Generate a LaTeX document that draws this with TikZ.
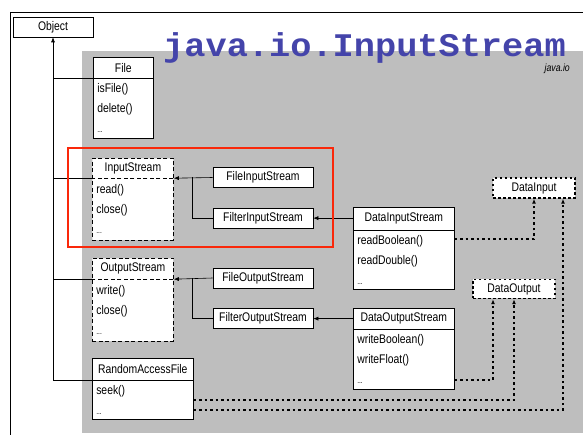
\documentclass[tikz,border=0pt]{standalone}
\usepackage{fontspec}
\setmainfont[FakeStretch=0.83]{Liberation Sans}
\newfontfamily\titlefont[FakeStretch=1.07]{Liberation Mono}
\usetikzlibrary{calc,positioning,shapes.multipart,arrows.meta}
\definecolor{pkggray}{RGB}{190,190,190}
\definecolor{titleblue}{RGB}{68,68,170}
\definecolor{markred}{RGB}{250,40,10}
\tikzstyle{classbox} = [rectangle split, rectangle split parts=2, draw, fill=white, inner sep=0pt, line width=0.6pt, font=\fontsize{12.5}{20}\selectfont]
\tikzstyle{abstract} = [dash pattern=on 4pt off 2.5pt, line width=0.8pt]
\tikzstyle{process} = [rectangle, draw, fill=white, text centered, inner sep=0pt, minimum width=100pt, minimum height=20pt, line width=0.6pt, font=\fontsize{12.5}{14}\selectfont]
\tikzstyle{interface} = [process, line width=1.4pt, dash pattern=on 2.5pt off 2.5pt, minimum width=82pt]
\tikzstyle{link} = [line width=0.6pt]
\tikzstyle{connector} = [line width=0.6pt,->]
\tikzstyle{realize} = [line width=1.4pt, dash pattern=on 2.5pt off 3pt, ->]
\newcommand{\classhead}[3]{\parbox[c][#2pt][c]{#1pt}{\centering #3}}
\newcommand{\classitems}[3]{\parbox[c][#2pt][c]{#1pt}{\raggedright\leftskip=4pt #3}}
\newcommand{\more}{{\fontsize{8}{8}\selectfont ...}}

\begin{document}
\begin{tikzpicture}[x=1pt, y=-1pt, >={Latex[length=5pt,width=4pt]}]
        \useasboundingbox (0,0) rectangle (583,435);
        % frame and package area
        \draw [line width=0.8pt] (10,435) -- (10,12) -- (583,12);
        \fill [pkggray] (82,51) rectangle (583,433);
        \node (title) [anchor=base west, text=titleblue, font=\titlefont\bfseries\fontsize{33}{33}\selectfont, inner sep=0pt] at (163,57) {java.io.InputStream};
        \node (pkg) [anchor=base east, font=\itshape\fontsize{10.5}{10.5}\selectfont, inner sep=0pt] at (570,72) {java.io};
        % classes
        \node (Object) [process, minimum width=80pt] at (53,27) {Object};
        \node (File) [classbox, anchor=north west] at (93,57) {\classhead{60}{20}{File}\nodepart{two}\classitems{60}{60}{isFile()\\delete()\\\more}};
        \node (InputStream) [classbox, abstract, anchor=north west] at (92,158) {\classhead{81}{19}{InputStream}\nodepart{two}\classitems{81}{61}{read()\\close()\\\more}};
        \node (OutputStream) [classbox, abstract, anchor=north west] at (92,258) {\classhead{81}{20}{OutputStream}\nodepart{two}\classitems{81}{61}{write()\\close()\\\more}};
        \node (RandomAccessFile) [classbox, anchor=north west] at (92,358) {\classhead{101}{21}{RandomAccessFile}\nodepart{two}\classitems{101}{39}{seek()\\\more}};
        \node (FileInputStream) [process] at (263,177.5) {FileInputStream};
        \node (FilterInputStream) [process, below=20pt of FileInputStream] {FilterInputStream};
        \node (FileOutputStream) [process] at (263,278) {FileOutputStream};
        \node (FilterOutputStream) [process, below=20pt of FileOutputStream] {FilterOutputStream};
        \node (DataInputStream) [classbox, anchor=north west] at (353,207) {\classhead{101}{22}{DataInputStream}\nodepart{two}\classitems{101}{59}{readBoolean()\\readDouble()\\\more}};
        \node (DataOutputStream) [classbox, anchor=north west] at (353,308) {\classhead{101}{20}{DataOutputStream}\nodepart{two}\classitems{101}{60}{writeBoolean()\\writeFloat()\\\more}};
        \node (DataInput) [interface] at (534,188) {DataInput};
        \node (DataOutput) [interface, minimum height=19pt] at (514,289) {DataOutput};
        % inheritance
        \draw [connector] (RandomAccessFile.text split west) -| (Object.south);
        \draw [link] (File.text split west) -- (File.text split west -| Object.south);
        \draw [link] (InputStream.text split west) -- (InputStream.text split west -| Object.south);
        \draw [link] (OutputStream.text split west) -- (OutputStream.text split west -| Object.south);
        \draw [connector] (FileInputStream.west) -- (InputStream.text split east);
        \draw [link] (FilterInputStream.west) -| ($(FileInputStream.west)+(-20,0)$);
        \draw [connector] (FileOutputStream.west) -- (OutputStream.text split east);
        \draw [link] (FilterOutputStream.west) -| ($(FileOutputStream.west)+(-20,0)$);
        \draw [connector] (FilterInputStream.east -| DataInputStream.west) -- (FilterInputStream.east);
        \draw [connector] (FilterOutputStream.east -| DataOutputStream.west) -- (FilterOutputStream.east);
        % interfaces
        \draw [realize] ($(DataInputStream.text split east)+(0,9)$) -| (DataInput.south);
        \draw [realize] ($(RandomAccessFile.south east)+(0,-10)$) -| ($(DataInput.south)+(29,0)$);
        \draw [realize] ($(DataOutputStream.south east)+(0,-10)$) -| ($(DataOutput.south)+(-21,0)$);
        \draw [realize] ($(RandomAccessFile.south east)+(0,-20)$) -| (DataOutput.south);
        % highlight
        \draw [markred, line width=2pt] (68,148) rectangle (333,247);
    \end{tikzpicture}
\end{document}
